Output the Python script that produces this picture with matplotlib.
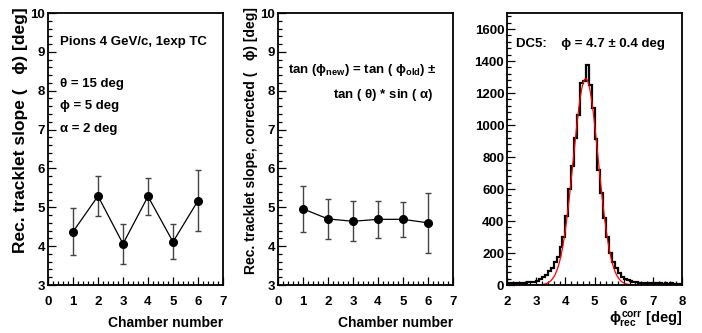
import numpy as np
import matplotlib
matplotlib.use("Agg")
import matplotlib.pyplot as plt
from matplotlib.ticker import MultipleLocator

plt.rcParams['font.family'] = ['Liberation Sans', 'DejaVu Sans']
plt.rcParams['font.weight'] = 'bold'
plt.rcParams['axes.labelweight'] = 'bold'
plt.rcParams['mathtext.fontset'] = 'custom'
plt.rcParams['mathtext.rm'] = 'Liberation Sans:bold'
plt.rcParams['mathtext.it'] = 'Liberation Sans'
plt.rcParams['mathtext.bf'] = 'Liberation Sans:bold'

# data
chamber = [1, 2, 3, 4, 5, 6]
slope_raw = [4.37, 5.29, 4.06, 5.28, 4.11, 5.17]
err_raw = [0.60, 0.52, 0.51, 0.47, 0.45, 0.78]
slope_corr = [4.96, 4.70, 4.64, 4.69, 4.69, 4.60]
err_corr = [0.60, 0.52, 0.51, 0.47, 0.45, 0.78]

hist_lo, hist_width = 2.0, 0.1
hist_counts = [15, 12, 14, 11, 13, 15, 12, 16, 18, 20,
               26, 35, 48, 62, 85, 104, 141, 175, 239, 303,
               434, 603, 746, 921, 1060, 1262, 1272, 1374, 1247, 1108,
               910, 717, 572, 416, 301, 198, 145, 104, 73, 52,
               38, 30, 25, 20, 18, 15, 14, 12, 13, 11,
               12, 10, 11, 9, 10, 9, 10, 8, 9, 8]
# gaussian fit shown in red
fit_amp, fit_mean, fit_sigma = 1290, 4.70, 0.43

W, H = 702, 333
fig = plt.figure(figsize=(W / 100, H / 100), dpi=100)

def style(ax):
    for s in ax.spines.values():
        s.set_linewidth(1.3)
    ax.tick_params(which='both', direction='in', top=False, right=False,
                   labelsize=9.5, width=0.9)
    ax.tick_params(which='major', length=6)
    ax.tick_params(which='minor', length=3)
    ax.tick_params(axis='x', pad=8)
    ax.tick_params(axis='y', pad=2)

bottom, height = 1 - 285 / H, (285 - 13) / H
width = 175 / W

panels = [
    (48, slope_raw, err_raw, 'Rec. tracklet slope (   \u03d5) [deg]', 12.5),
    (278, slope_corr, err_corr, 'Rec. tracklet slope, corrected (   \u03d5) [deg]', 10),
]
axes = []
for left, vals, errs, ylab, fs in panels:
    ax = fig.add_axes([left / W, bottom, width, height])
    ax.errorbar(chamber, vals, yerr=errs, color='black', ecolor='#444444',
                elinewidth=1.0, capsize=2.5, capthick=1.0, marker='o',
                markersize=5.5, linewidth=0.9)
    ax.set_xlim(0, 7)
    ax.set_ylim(3, 10)
    ax.xaxis.set_major_locator(MultipleLocator(1))
    ax.xaxis.set_minor_locator(MultipleLocator(0.2))
    ax.yaxis.set_major_locator(MultipleLocator(1))
    ax.yaxis.set_minor_locator(MultipleLocator(0.2))
    style(ax)
    ax.set_xlabel('Chamber number', fontsize=10, ha='right', fontweight='bold')
    ax.xaxis.set_label_coords(1.0, -0.115)
    ax.set_ylabel(ylab, fontsize=fs, ha='right', fontweight='bold')
    ax.yaxis.set_label_coords(-0.115, 1.02)
    axes.append(ax)

ax1, ax2 = axes
ax1.text(0.07, 0.895, 'Pions 4 GeV/c, 1exp TC', transform=ax1.transAxes,
         fontsize=9.5, va='center')
for i, t in enumerate(['\u03b8 = 15 deg', '\u03d5 = 5 deg', '\u03b1 = 2 deg']):
    ax1.text(0.07, 0.74 - i * 0.083, t, transform=ax1.transAxes,
             fontsize=9.5, va='center')

ax2.text(0.055, 0.79, r'tan ($\phi_{\mathbf{new}}$) = tan ( $\phi_{\mathbf{old}}$) $\pm$',
         transform=ax2.transAxes, fontsize=9.5, va='center')
ax2.text(0.89, 0.70, r'tan ( $\theta$) * sin ( $\alpha$)', transform=ax2.transAxes,
         fontsize=9.5, va='center', ha='right')

# histogram panel
ax3 = fig.add_axes([507 / W, bottom, width, height])
edges = hist_lo + hist_width * np.arange(len(hist_counts) + 1)
ax3.stairs(hist_counts, edges, color='black', linewidth=1.6)
xf = np.linspace(2, 8, 600)
ax3.plot(xf, fit_amp * np.exp(-0.5 * ((xf - fit_mean) / fit_sigma) ** 2),
         color='red', linewidth=0.9)
ax3.set_xlim(2, 8)
ax3.set_ylim(0, 1700)
ax3.xaxis.set_major_locator(MultipleLocator(1))
ax3.xaxis.set_minor_locator(MultipleLocator(0.2))
ax3.yaxis.set_major_locator(MultipleLocator(200))
ax3.yaxis.set_minor_locator(MultipleLocator(40))
style(ax3)
ax3.set_xlabel(r'$\phi^{\mathbf{corr}}_{\mathbf{rec}}$ [deg]', fontsize=10.5,
               ha='right', fontweight='bold')
ax3.xaxis.set_label_coords(1.0, -0.09)
ax3.text(0.05, 0.885, 'DC5:    \u03d5 = 4.7 \u00b1 0.4 deg', transform=ax3.transAxes,
         fontsize=9.5, va='center')

fig.canvas.draw()
for ax in (ax1, ax2, ax3):
    plt.setp(ax.get_xticklabels() + ax.get_yticklabels(), fontweight='bold')

fig.savefig('out.png', dpi=100)
